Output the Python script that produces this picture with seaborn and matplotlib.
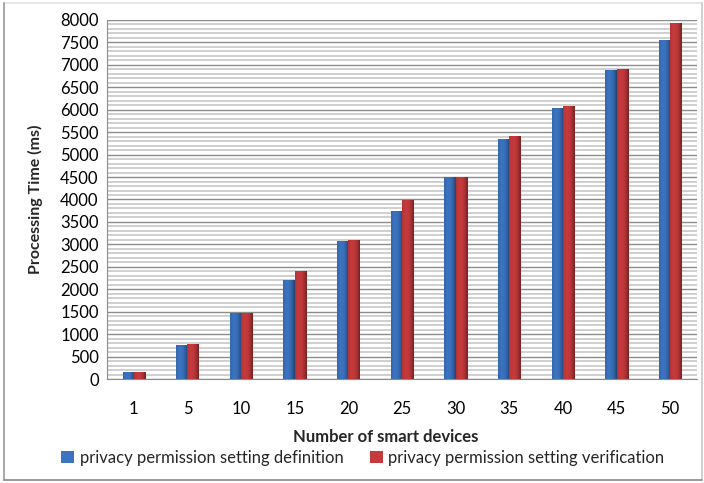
import matplotlib
matplotlib.use("Agg")
import matplotlib.pyplot as plt
import seaborn as sns
import pandas as pd
import numpy as np
from matplotlib.ticker import MultipleLocator
from matplotlib.lines import Line2D

devices = ["1", "5", "10", "15", "20", "25", "30", "35", "40", "45", "50"]
definition = [150, 750, 1480, 2200, 3080, 3750, 4510, 5350, 6030, 6890, 7550]
verification = [150, 780, 1460, 2400, 3100, 3980, 4510, 5420, 6080, 6900, 7930]
series_names = ["privacy permission setting definition",
                "privacy permission setting verification"]

df = pd.DataFrame({
    "devices": devices * 2,
    "time": definition + verification,
    "series": [series_names[0]] * len(devices) + [series_names[1]] * len(devices),
})

sns.set_style("white")
plt.rcParams["font.family"] = ["Lato", "DejaVu Sans"]

W, H = 704, 483
fig = plt.figure(figsize=(W / 100, H / 100), dpi=100)
ax = fig.add_axes([107 / W, 1 - 379 / H, 590 / W, 359 / H])

palette = {series_names[0]: "#3B73C0", series_names[1]: "#C63A3C"}
sns.barplot(data=df, x="devices", y="time", hue="series", order=devices,
            hue_order=series_names, palette=palette, width=0.42, gap=0.0,
            saturation=1, ax=ax, edgecolor="none", zorder=3)

# cylinder-like shading
for patch in ax.patches:
    x0, y0 = patch.get_x(), patch.get_y()
    w, h = patch.get_width(), patch.get_height()
    if h <= 0:
        continue
    base = np.array(matplotlib.colors.to_rgb(patch.get_facecolor()))
    grad = np.linspace(0, 1, 50)
    shade = 1.0 - 0.45 * (grad - 0.35) ** 2 * 2.2
    shade = np.clip(shade, 0.55, 1.15)
    img = np.clip(base[None, None, :] * shade[None, :, None], 0, 1)
    im = ax.imshow(img, extent=[x0, x0 + w, y0, y0 + h], aspect="auto",
                   zorder=4, interpolation="bilinear")
    im.set_clip_path(patch)

ax.set_xlim(-0.5, len(devices) - 0.5)
ax.set_ylim(0, 8000)
ax.yaxis.set_major_locator(MultipleLocator(500))
ax.yaxis.set_minor_locator(MultipleLocator(100))
ax.grid(which="major", axis="y", color="#8C8C8C", linewidth=1.0, zorder=0)
ax.grid(which="minor", axis="y", color="#CFCFCF", linewidth=1.4, zorder=0)
ax.set_axisbelow(True)
for s in ["top", "right"]:
    ax.spines[s].set_visible(False)
ax.spines["left"].set_color("#8C8C8C")
ax.spines["bottom"].set_color("#8C8C8C")
ax.tick_params(axis="both", which="both", length=0, labelsize=12,
               colors="#000000")
ax.tick_params(axis="x", pad=16)
ax.tick_params(axis="y", pad=6)

ax.set_xlabel("Number of smart devices", fontsize=12, fontweight="bold")
ax.xaxis.set_label_coords((386 - 107) / 590, -(437 - 379) / 359)
ax.xaxis.label.set_va("center")
ax.set_ylabel("Processing Time (ms)", fontsize=11.5, fontweight="bold")
ax.yaxis.set_label_coords(-(107 - 35) / 590, 0.5)
ax.yaxis.label.set_va("center")

if ax.get_legend() is not None:
    ax.get_legend().remove()
handles, labels = ax.get_legend_handles_labels()
fig.legend(handles, labels, loc="center", bbox_to_anchor=(363 / W, 1 - 458 / H),
           ncol=2, frameon=False, fontsize=12, handlelength=0.75,
           handleheight=0.75, handletextpad=0.35, columnspacing=1.6,
           borderaxespad=0, borderpad=0)

# outer chart border
def px(x, y):
    return x / W, 1 - y / H

for (a, b), col in [((px(4, 3), px(702, 3)), "#E3E3E3"),
                    ((px(702, 3), px(702, 480)), "#C8C8C8"),
                    ((px(4, 3), px(4, 480)), "#9A9A9A"),
                    ((px(4, 480), px(702, 480)), "#8A8A8A")]:
    fig.add_artist(Line2D([a[0], b[0]], [a[1], b[1]], color=col,
                          linewidth=1.2, transform=fig.transFigure))

fig.savefig("out.png", dpi=100)
